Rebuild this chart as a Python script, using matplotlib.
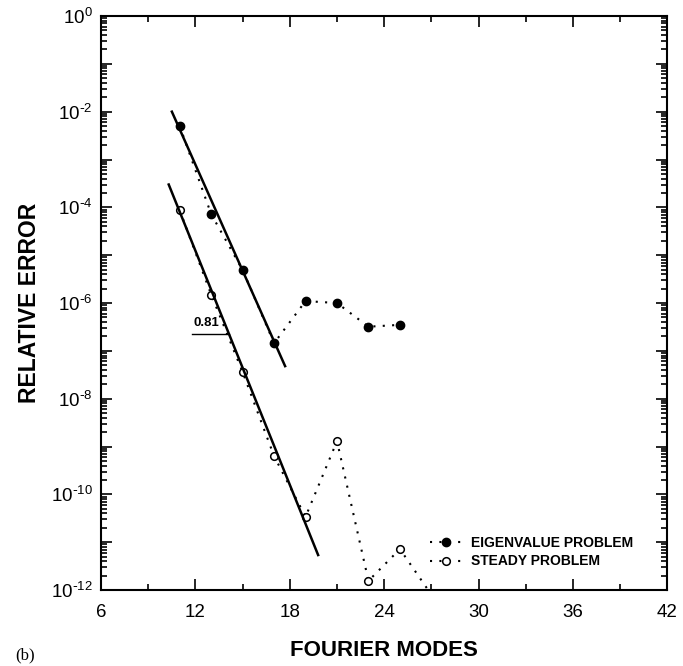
import matplotlib.pyplot as plt
from matplotlib.lines import Line2D
from matplotlib.ticker import FixedLocator, LogLocator, NullFormatter

plt.rcParams['font.family'] = ['Liberation Sans', 'DejaVu Sans']
plt.rcParams['mathtext.default'] = 'regular'
plt.rcParams['axes.unicode_minus'] = False

# data
modes = [11, 13, 15, 17, 19, 21, 23, 25]
eigen_err = [5.0e-3, 7.2e-5, 4.9e-6, 1.45e-7, 1.1e-6, 1.0e-6, 3.2e-7, 3.5e-7]

steady_modes = [11, 13, 15, 17, 19, 21, 23, 25, 27]
steady_err = [8.7e-5, 1.5e-6, 3.6e-8, 6.3e-10, 3.4e-11, 1.3e-9, 1.56e-12, 7.2e-12, 8e-13]

# least squares lines
eig_fit_x = [10.5, 17.7]
eig_fit_y = [1.0e-2, 4.8e-8]
steady_fit_x = [10.3, 19.8]
steady_fit_y = [3.0e-4, 5.4e-12]

slope_label = "0.81"

fig = plt.figure(figsize=(6.83, 6.66), dpi=100)
ax = fig.add_axes([0.148, 0.114, 0.829, 0.862])

dots = (0, (1, 3.5))
ax.plot(modes, eigen_err, color='black', linestyle=dots, linewidth=1.5,
        marker='o', markersize=6, markerfacecolor='black')
ax.plot(steady_modes, steady_err, color='black', linestyle=dots, linewidth=1.5,
        marker='o', markersize=5.5, markerfacecolor='white', markeredgewidth=1.1)
ax.plot(eig_fit_x, eig_fit_y, color='black', linewidth=1.8)
ax.plot(steady_fit_x, steady_fit_y, color='black', linewidth=1.8)

# slope annotation
ax.plot([11.79, 14.14], [2.3e-7, 2.3e-7], color='black', linewidth=1.0)
ax.text(11.85, 2.9e-7, slope_label, fontsize=9.5, fontweight='bold', va='bottom')

ax.set_yscale('log')
ax.set_xlim(6, 42)
ax.set_ylim(1e-12, 1)

ax.xaxis.set_major_locator(FixedLocator([6, 12, 18, 24, 30, 36, 42]))
ax.xaxis.set_minor_locator(FixedLocator([9, 15, 21, 27, 33, 39]))


def exp_label(e):
    if e % 2:
        return ''
    if e == 0:
        return '$10^{0}$'
    return '$10^{\\text{-}%d}$' % abs(e)


exps = list(range(-12, 1))
ax.yaxis.set_major_locator(FixedLocator([10.0 ** e for e in exps]))
ax.set_yticklabels([exp_label(e) for e in exps])
ax.yaxis.set_minor_locator(LogLocator(base=10, subs=range(2, 10), numticks=100))
ax.yaxis.set_minor_formatter(NullFormatter())

ax.tick_params(which='both', direction='in', top=True, right=True, width=1.2)
ax.tick_params(which='major', length=8, labelsize=13.5, pad=6)
ax.tick_params(which='minor', length=4)
ax.tick_params(axis='x', which='major', pad=10)
for s in ax.spines.values():
    s.set_linewidth(1.5)

ax.set_xlabel('FOURIER MODES', fontsize=16, fontweight='bold', labelpad=14)
ax.set_ylabel('RELATIVE ERROR', fontsize=16.5, fontweight='bold', labelpad=7)

handles = [
    Line2D([], [], color='black', linestyle=dots, linewidth=1.5, marker='o',
           markersize=6, markerfacecolor='black'),
    Line2D([], [], color='black', linestyle=dots, linewidth=1.5, marker='o',
           markersize=5.5, markerfacecolor='white', markeredgewidth=1.1),
]
leg = ax.legend(handles, ['EIGENVALUE PROBLEM', 'STEADY PROBLEM'],
                loc='lower left', bbox_to_anchor=(0.558, 0.016), frameon=False,
                handlelength=2.4, handletextpad=0.6, labelspacing=0.35,
                prop={'weight': 'bold', 'size': 10})

fig.text(0.022, 0.01, '(b)', fontsize=12, family='Liberation Serif')

plt.savefig('out.png', dpi=100)
